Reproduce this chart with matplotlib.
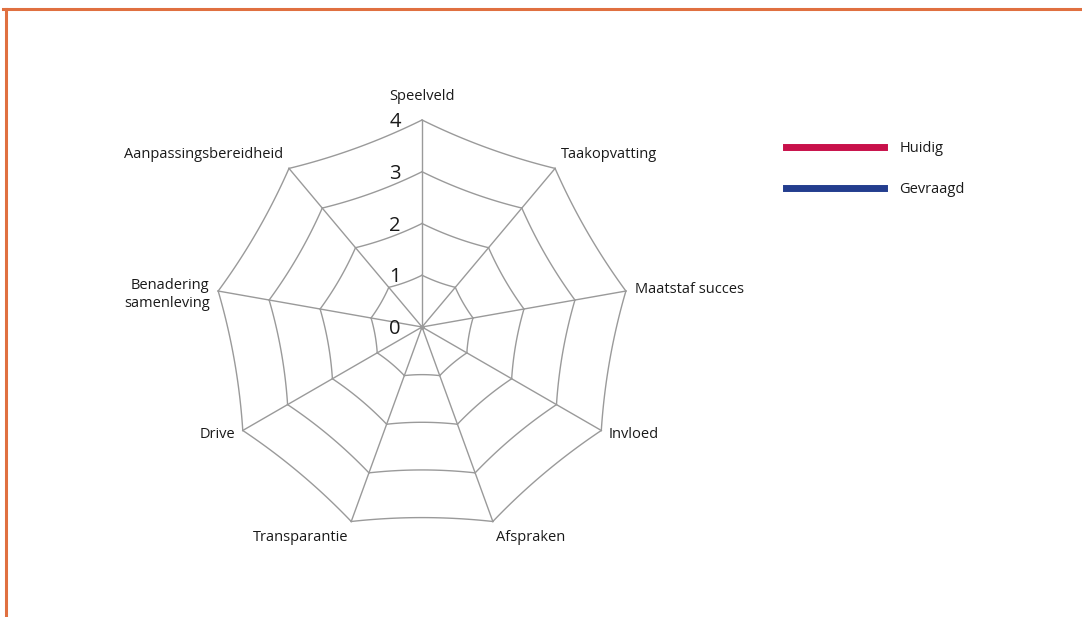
import numpy as np
import matplotlib.pyplot as plt
from matplotlib.lines import Line2D

plt.rcParams['font.family'] = ['Open Sans', 'DejaVu Sans']

# axes of the spider chart, clockwise from the top
categories = ['Speelveld', 'Taakopvatting', 'Maatstaf succes', 'Invloed', 'Afspraken',
              'Transparantie', 'Drive', 'Benadering\nsamenleving', 'Aanpassingsbereidheid']
levels = [0, 1, 2, 3, 4]
series_names = ['Huidig', 'Gevraagd']
series_colors = ['#c8104a', '#233d8e']
# no values are filled in on the chart
huidig = [None, None, None, None, None, None, None, None, None]
gevraagd = [None, None, None, None, None, None, None, None, None]

n = len(categories)
angles = np.pi / 2 - np.arange(n) * 2 * np.pi / n
rmax = levels[-1]

fig = plt.figure(figsize=(10.82, 6.17), dpi=100)
# one unit = 51.75 px, centre at (422, 327) px
ax = fig.add_axes([0.1509, 0.0507, 0.4783, 0.8387])
ax.set_xlim(-5, 5)
ax.set_ylim(-5, 5)
ax.set_aspect('equal')
ax.axis('off')

grid_color = '#9a9a9a'
text_color = '#1a1a1a'

# web: every ring segment bows a little towards the centre
t = np.linspace(0, 1, 30)[:, None]
for lv in levels[1:]:
    pts = np.column_stack([lv * np.cos(angles), lv * np.sin(angles)])
    for i in range(n):
        p0 = pts[i]
        p1 = pts[(i + 1) % n]
        mid = (p0 + p1) / 2
        ctrl = mid * 0.96
        curve = (1 - t) ** 2 * p0 + 2 * t * (1 - t) * ctrl + t ** 2 * p1
        ax.plot(curve[:, 0], curve[:, 1], color=grid_color, lw=1, zorder=1)

# spokes
for a in angles:
    ax.plot([0, rmax * np.cos(a)], [0, rmax * np.sin(a)], color=grid_color, lw=1, zorder=1)
ax.plot(0, 0, 'o', color=grid_color, ms=2.5, zorder=1)

# level numbers along the top axis
for lv in levels:
    ax.text(-0.52, lv - 0.04, str(lv), ha='center', va='center', fontsize=14.5,
            color=text_color)

# category labels
for a, name in zip(angles, categories):
    c, s = np.cos(a), np.sin(a)
    r = 4.3 if s > 0.95 else 4.17
    ha = 'left' if c > 0.1 else ('right' if c < -0.1 else 'center')
    if s > 0.6:
        va = 'bottom'
    elif s < -0.6:
        va = 'top'
    else:
        va = 'center'
    dy = -0.1 if '\n' in name else 0
    ax.text(r * c, r * s + dy, name, ha=ha, va=va, fontsize=10.5, color=text_color,
            multialignment='right', linespacing=1.25)

# series (empty)
for vals, col, name in zip([huidig, gevraagd], series_colors, series_names):
    v = np.array([np.nan if x is None else x for x in vals + vals[:1]], dtype=float)
    ang = np.append(angles, angles[0])
    ax.plot(v * np.cos(ang), v * np.sin(ang), color=col, lw=2.5, zorder=3)

handles = [Line2D([], [], color=c, lw=5) for c in series_colors]
fig.legend(handles, series_names, loc='upper left', bbox_to_anchor=(786 / 1082, 1 - 141 / 617),
           frameon=False, fontsize=10.5, handlelength=6.72, handletextpad=1.05,
           labelspacing=1.8, borderpad=0, borderaxespad=0, labelcolor=text_color)

# orange frame on the top and left edge
border = '#e07040'
fig.add_artist(Line2D([3 / 1082, 1], [1 - 9 / 617, 1 - 9 / 617], transform=fig.transFigure,
                      color=border, lw=2.2))
fig.add_artist(Line2D([6 / 1082, 6 / 1082], [0, 1 - 9 / 617], transform=fig.transFigure,
                      color=border, lw=2.2))

fig.savefig('out.png', dpi=100)
